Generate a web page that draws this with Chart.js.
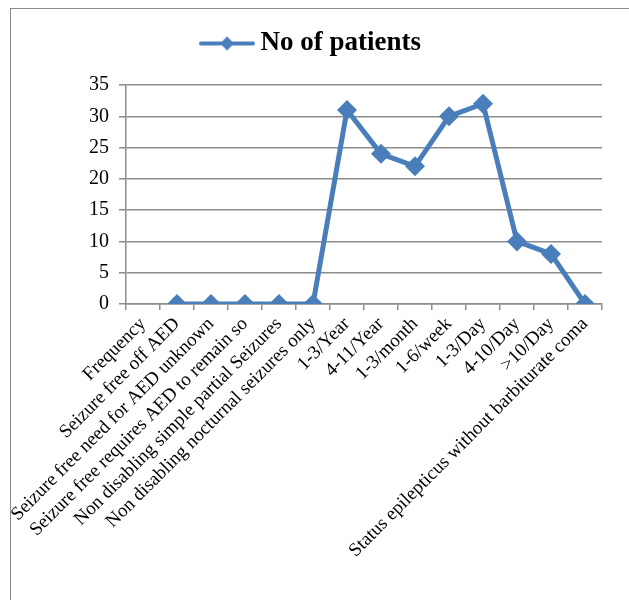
<!DOCTYPE html>
<html>
<head>
<meta charset="utf-8">
<script src="https://cdn.jsdelivr.net/npm/chart.js@4/dist/chart.umd.min.js"></script>
<style>
  html, body { margin: 0; padding: 0; background: #fff; overflow: hidden; }
  #wrap { position: relative; width: 629px; height: 600px; }
  #frame { position: absolute; left: 10px; top: 8px; width: 700px; height: 700px; border: 1px solid #8a8a8a; }
  #c { position: absolute; left: 0; top: 0; }
</style>
</head>
<body>
<div id="wrap">
  <div id="frame"></div>
  <canvas id="c" width="629" height="600"></canvas>
</div>
<script>
/*
* Data
*/
var categories = ["Frequency", "Seizure free off AED", "Seizure free need for AED unknown",
	"Seizure free requires AED to remain so", "Non disabling simple partial Seizures",
	"Non disabling nocturnal seizures only", "1-3/Year", "4-11/Year", "1-3/month",
	"1-6/week", "1-3/Day", "4-10/Day", ">10/Day", "Status epilepticus without barbiturate coma"]
var patients = [null, 0, 0, 0, 0, 0, 31, 24, 22, 30, 32, 10, 8, 0]
var yTicks = [0, 5, 10, 15, 20, 25, 30, 35]

var blue = '#4A7EBB'
var grey = '#8c8c8c'
var serif = "'Liberation Serif', 'Times New Roman', serif"

// legend marker: line with diamond in the middle
var marker = document.createElement('canvas')
marker.width = 56; marker.height = 16
var m = marker.getContext('2d')
m.strokeStyle = blue; m.lineWidth = 4; m.lineCap = 'round'
m.beginPath(); m.moveTo(2, 8); m.lineTo(54, 8); m.stroke()
m.fillStyle = blue
m.beginPath(); m.moveTo(28, 1); m.lineTo(35, 8); m.lineTo(28, 15); m.lineTo(21, 8); m.closePath(); m.fill()

// extra room under the legend
var legendGap = {
	id: 'legendGap',
	beforeInit: function (chart) {
		var fit = chart.legend.fit
		chart.legend.fit = function () {
			fit.call(this)
			this.height += 18
		}
	}
}

var chart = new Chart(document.getElementById('c'), {
	type: 'line',
	data: {
		labels: categories,
		datasets: [{
			label: 'No of patients',
			data: patients,
			borderColor: blue,
			backgroundColor: blue,
			borderWidth: 5,
			pointStyle: 'rectRot',
			pointRadius: 10,
			pointHoverRadius: 10,
			pointBackgroundColor: blue,
			pointBorderWidth: 0,
			tension: 0
		}]
	},
	plugins: [legendGap],
	options: {
		responsive: false,
		animation: false,
		layout: {padding: {left: 26, right: 27, top: 16, bottom: 0}},
		plugins: {
			tooltip: {enabled: false},
			legend: {
				position: 'top',
				labels: {
					usePointStyle: true,
					pointStyle: marker,
					pointStyleWidth: 40,
					color: '#000',
					padding: 14,
					font: {family: serif, size: 27, weight: 'bold'}
				}
			}
		},
		scales: {
			x: {
				offset: true,
				afterFit: function (s) { s.height = 296 },
				grid: {display: true, drawOnChartArea: false, offset: true, tickLength: 6, color: grey, lineWidth: 1.5},
				border: {color: grey, width: 1.5},
				ticks: {
					autoSkip: false, minRotation: 45, maxRotation: 45, color: '#000', padding: 3,
					font: {family: serif, size: 19}
				}
			},
			y: {
				min: 0, max: 35,
				afterFit: function (s) { s.width = 100 },
				afterBuildTicks: function (s) { s.ticks = yTicks.map(function (v) { return {value: v} }) },
				grid: {color: grey, lineWidth: 1.5, tickLength: 7},
				border: {color: grey, width: 1.5},
				ticks: {color: '#000', padding: 10, font: {family: serif, size: 20}}
			}
		}
	}
})
</script>
</body>
</html>
